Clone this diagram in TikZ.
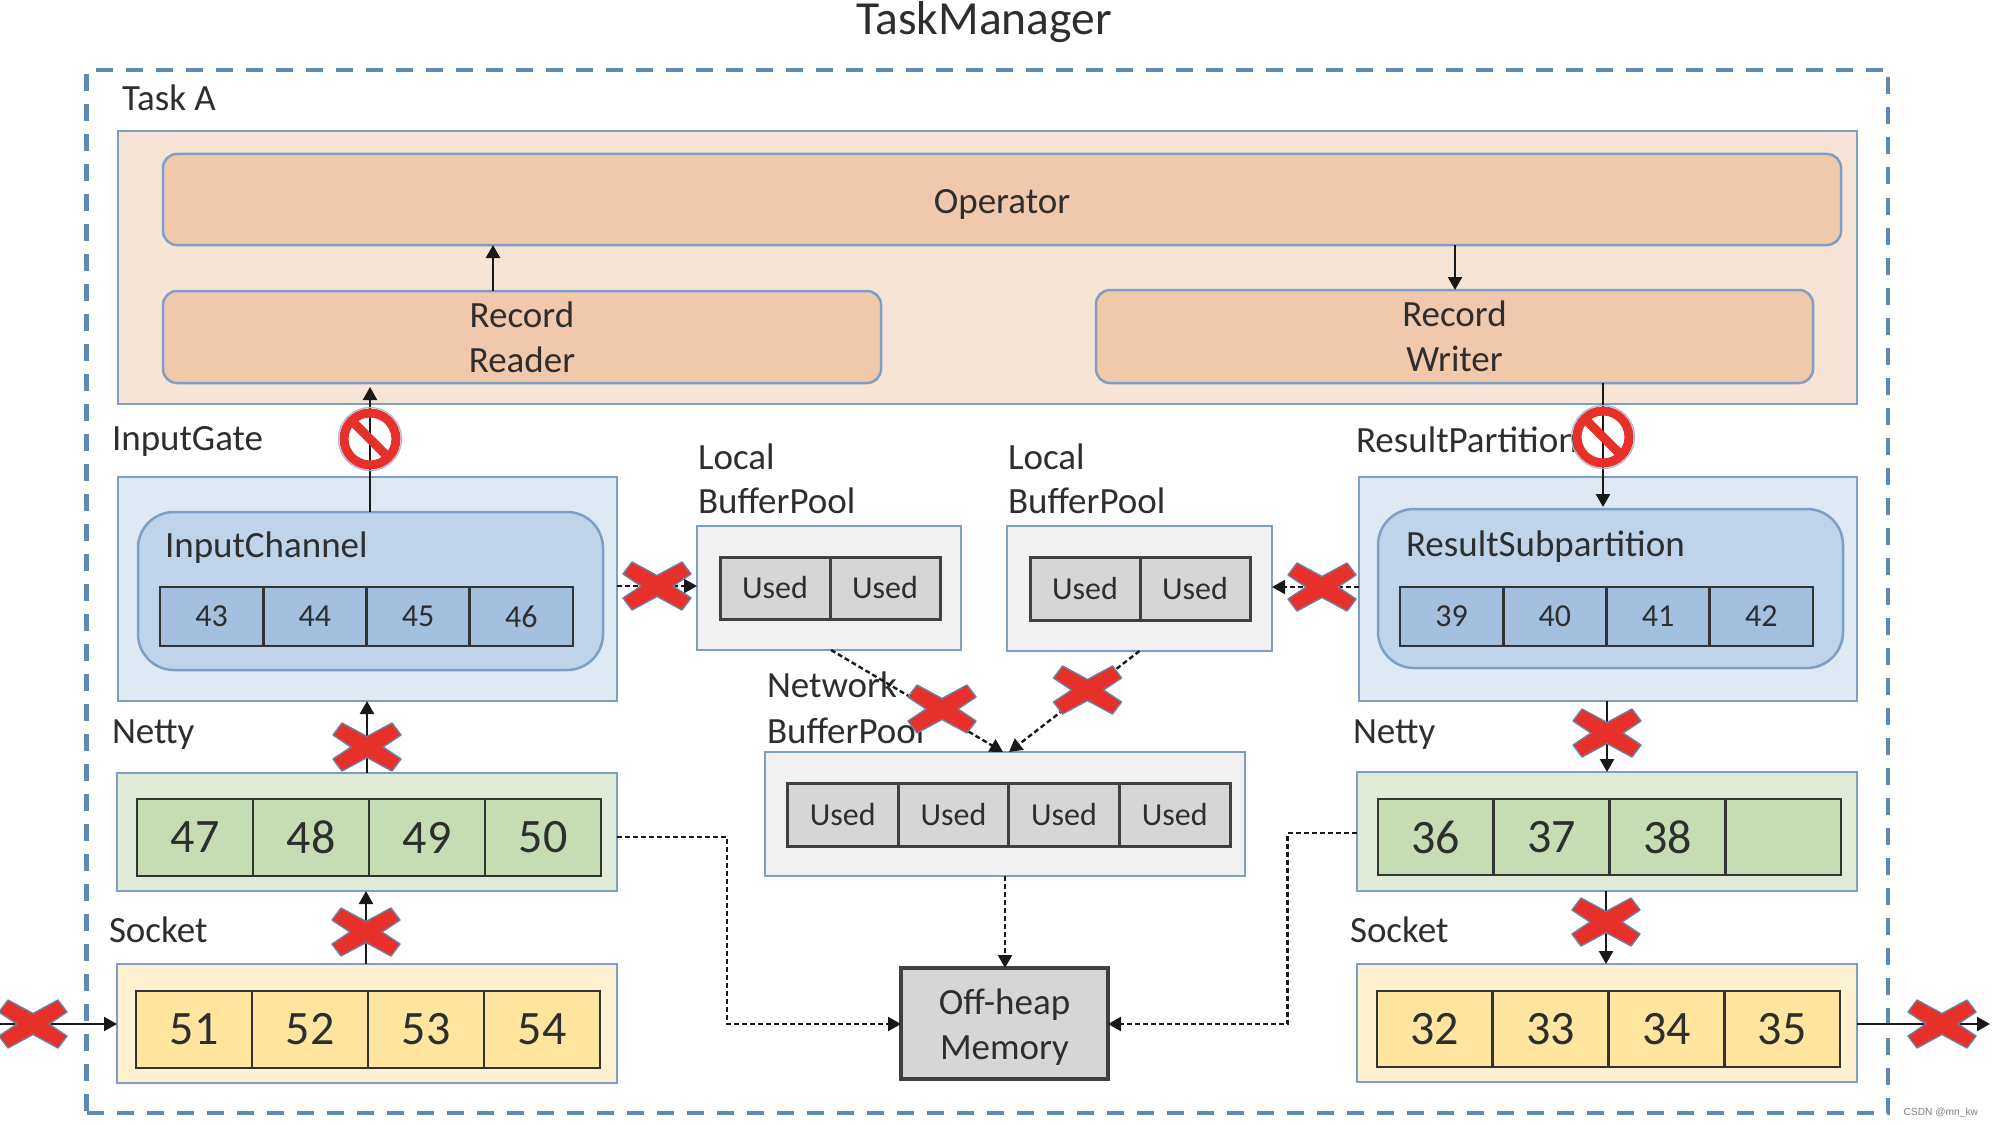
\documentclass[tikz,border=0pt]{standalone}
\usepackage{fontspec}
\setmainfont{Carlito}
\newfontfamily\marksans{Liberation Sans}
\usetikzlibrary{arrows.meta}
\definecolor{edgeblue}{HTML}{7E9EC4}
\definecolor{dashblue}{HTML}{5F8AB5}
\definecolor{peachbg}{HTML}{F6E4D7}
\definecolor{peachfg}{HTML}{F0C9AC}
\definecolor{bluebg}{HTML}{DEE9F3}
\definecolor{bluemid}{HTML}{BFD3E9}
\definecolor{bluecell}{HTML}{A3C0DF}
\definecolor{greenbg}{HTML}{E1ECD8}
\definecolor{greencell}{HTML}{C6DCB3}
\definecolor{yellowbg}{HTML}{FEF1D0}
\definecolor{yellowcell}{HTML}{FFE5A0}
\definecolor{greybg}{HTML}{F1F1F1}
\definecolor{greycell}{HTML}{D6D6D6}
\definecolor{xred}{HTML}{E8302A}
\definecolor{xedge}{HTML}{6C7FA0}
\definecolor{ink}{HTML}{2E2E2E}
\newcommand{\fs}[1]{\fontsize{#1}{#1}\selectfont}
\tikzset{
  base/.style={inner sep=0pt,outer sep=0pt,text=ink},
  panel/.style={base,draw=edgeblue,line width=2.5pt},
  bigtext/.style={font=\fontsize{37}{45}\selectfont,align=center},
  lab/.style={base,anchor=base west,font=\fs{37}},
  peachp/.style={panel,fill=peachbg},
  peachr/.style={panel,fill=peachfg,rounded corners=14pt,bigtext},
  bluep/.style={panel,fill=bluebg},
  bluer/.style={panel,fill=bluemid,rounded corners=36pt},
  greenp/.style={panel,fill=greenbg},
  yellowp/.style={panel,fill=yellowbg},
  greyp/.style={panel,fill=greybg},
  cellb/.style={base,draw=black!80,line width=2.8pt,fill=bluecell,font=\fs{32}},
  cellg/.style={base,draw=black!80,line width=2.8pt,fill=greencell,font=\fs{48}},
  celly/.style={base,draw=black!80,line width=2.8pt,fill=yellowcell,font=\fs{48}},
  cellu/.style={base,draw=black!75,line width=3pt,fill=greycell,font=\fs{32}},
  memory/.style={base,draw=black!75,line width=3.5pt,fill=greycell,bigtext},
  arr/.style={draw=black!90,line width=2.4pt,-{Triangle[length=13pt,width=14pt]}},
  dasharr/.style={arr,dash pattern=on 5pt off 3pt},
  xmark/.pic={\path[fill=xred,draw=xedge,line width=1.4pt,line join=round]
     (-34,-12)--(-25,-24)--(0,-10.5)--(25,-24)--(34,-12)--(16,0)--(34,12)--(25,24)--(0,10.5)--(-25,24)--(-34,12)--(-16,0)--cycle;},
  stopmark/.pic={
     \draw[edgeblue!70,line width=1.2pt] (0,0) circle (31.5);
     \draw[xred,line width=9pt] (0,0) circle (26);
     \draw[xred,line width=9pt] (-19,-19)--(19,19);},
}
% name, style, x1, y1, x2, y2, text
\newcommand{\bx}[7]{\node[#2,minimum width={(#5-#3)*1pt},minimum height={(#6-#4)*1pt}] (#1) at ({(#3+#5)/2},{(#4+#6)/2}) {#7};}
% prefix, style, x1, y1, x2, y2, number of cells, list
\newcommand{\cells}[8]{\foreach \t [count=\i from 0] in {#8} {
  \node[#2,minimum width={(#5-#3)/#7*1pt},minimum height={(#6-#4)*1pt}] (#1\i) at ({#3+(\i+.5)*(#5-#3)/#7},{(#4+#6)/2}) {\t};}}
\begin{document}
\begin{tikzpicture}[x=1pt,y=-1pt]
\useasboundingbox[fill=white] (0,0) rectangle (1994,1126);
% outer frame
\node[base,draw=dashblue,line width=4.5pt,dash pattern=on 17pt off 13pt,minimum width=1801.5pt,minimum height=1043pt] (frame) at (987.25,591.5) {};
\node[base,anchor=base,font=\fs{47.5}] (title) at (984,35) {TaskManager};
\node[lab] (taska) at (122,111) {Task A};
% task
\bx{task}{peachp}{118}{131}{1857}{404}{}
\bx{operator}{peachr}{163}{154}{1841}{245}{\rule{0pt}{34pt}Operator}
\bx{reader}{peachr}{163}{291}{881}{383}{Record\\Reader}
\bx{writer}{peachr}{1096}{290}{1813}{383}{Record\\Writer}
% input gate
\node[lab] (lgate) at (112,450) {InputGate};
\bx{gate}{bluep}{118}{477}{617}{701}{}
\bx{channel}{bluer}{138}{512}{603}{670}{}
\node[lab] (lchannel) at (165,557) {InputChannel};
\cells{ci}{cellb}{160}{587}{573}{646}{4}{43,44,45,46}
% result partition
\node[lab] (lpart) at (1356,452) {ResultPartition};
\bx{part}{bluep}{1359}{477}{1857}{701}{}
\bx{sub}{bluer}{1378}{509}{1843}{668}{}
\node[lab] (lsub) at (1406,556) {ResultSubpartition};
\cells{cr}{cellb}{1400}{587}{1813}{646}{4}{39,40,41,42}
% netty and socket
\node[lab] (lnl) at (112,743) {Netty};
\bx{nettyl}{greenp}{117}{773}{617}{891}{}
\cells{cnl}{cellg}{137}{799}{601}{876}{4}{47,48,49,50}
\node[lab] (lsl) at (109,942) {Socket};
\bx{sockl}{yellowp}{117}{964}{617}{1083}{}
\cells{csl}{celly}{136}{991}{600}{1068}{4}{51,52,53,54}
\node[lab] (lnr) at (1353,743) {Netty};
\bx{nettyr}{greenp}{1357}{772}{1857}{891}{}
\cells{cnr}{cellg}{1378}{799}{1841}{875}{4}{36,37,38,{}}
\node[lab] (lsr) at (1350,942) {Socket};
\bx{sockr}{yellowp}{1357}{964}{1857}{1082}{}
\cells{csr}{celly}{1377}{991}{1840}{1067}{4}{32,33,34,35}
% local pools
\node[lab] (ll1) at (698,469) {Local};
\node[lab] (ll2) at (698,513) {BufferPool};
\bx{pooll}{greyp}{697}{526}{961}{650}{}
\cells{cpl}{cellu}{720}{557}{940}{619}{2}{Used,Used}
\node[lab] (lr1) at (1008,469) {Local};
\node[lab] (lr2) at (1008,513) {BufferPool};
\bx{poolr}{greyp}{1007}{526}{1272}{651}{}
\cells{cpr}{cellu}{1030}{557}{1250}{620}{2}{Used,Used}
% network pool
\node[lab] (ln1) at (767,697) {Network};
\node[lab] (ln2) at (767,743) {BufferPool};
\bx{pooln}{greyp}{765}{752}{1245}{876}{}
\cells{cpn}{cellu}{787.5}{783}{1230}{846}{4}{Used,Used,Used,Used}
\bx{mem}{memory}{901}{968}{1108}{1079}{\rule{0pt}{32pt}Off-heap\\Memory}
% free ends
\coordinate (leftin) at (0,1024);
\coordinate (rightout) at (1990,1024);
\coordinate (gatetip) at (370,387);
\coordinate (parttip) at (1603,507);
% connectors
\draw[arr] (493,0 |- reader.north) -- (493,0 |- operator.south);
\draw[arr] (1455,0 |- operator.south) -- (1455,0 |- writer.north);
\draw[arr] (370,0 |- channel.north) -- (gatetip);
\draw[arr] (1603,0 |- writer.south) -- (parttip);
\draw[arr] (367,0 |- nettyl.north) -- (367,0 |- gate.south);
\draw[arr] (366,0 |- sockl.north) -- (366,0 |- nettyl.south);
\draw[arr] (1607,0 |- part.south) -- (1607,0 |- nettyr.north);
\draw[arr] (1606,0 |- nettyr.south) -- (1606,0 |- sockr.north);
\draw[arr] (leftin) -- (sockl.west |- leftin);
\draw[arr] (sockr.east |- rightout) -- (rightout);
\draw[dasharr] (gate.east |- 0,586) -- (pooll.west |- 0,586);
\draw[dasharr] (part.west |- 0,587) -- (poolr.east |- 0,587);
\draw[dasharr] (831,0 |- pooll.south) -- (1003,0 |- pooln.north);
\draw[dasharr] (poolr.south) -- (1009,0 |- pooln.north);
\draw[dasharr] (pooln.south) -- (pooln.south |- mem.north);
\draw[dasharr] (nettyl.east |- 0,837) -- (727,837) -- (727,1024) -- (mem.west |- 0,1024);
\draw[dasharr] (nettyr.west |- 0,833) -- (1287.5,833) -- (1287.5,1024) -- (mem.east |- 0,1024);
% marks
\path (370,439) pic {stopmark};
\path (1603,437) pic {stopmark};
\path (657,586) pic {xmark};
\path (1322,587) pic {xmark};
\path (367,747) pic {xmark};
\path (366,932) pic {xmark};
\path (1607,733) pic {xmark};
\path (1606,922) pic {xmark};
\path (942,709) pic {xmark};
\path (1087.5,690) pic {xmark};
\path (33,1024) pic {xmark};
\path (1942,1024) pic {xmark};
\node[base,text=black!50,anchor=base east,font=\marksans\fs{10.2}] (mark) at (1978,1115) {CSDN @mn\_kw};
\end{tikzpicture}
\end{document}
